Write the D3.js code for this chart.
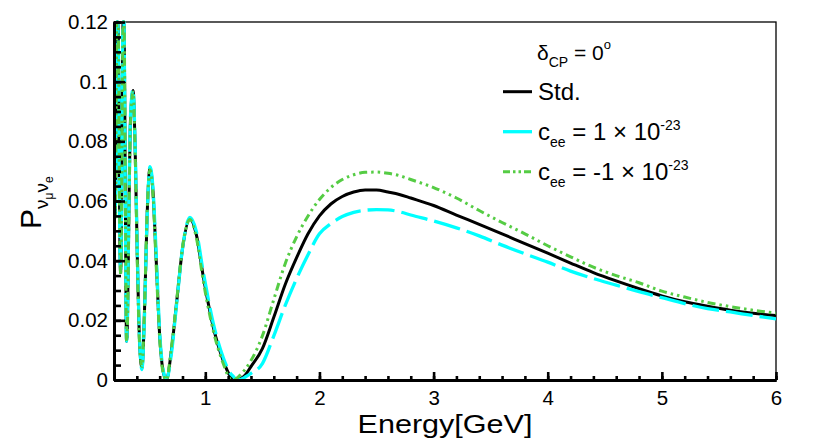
<!DOCTYPE html>
<html>
<head>
<meta charset="utf-8">
<script src="https://cdn.jsdelivr.net/npm/d3@7/dist/d3.min.js"></script>
<style>
  html, body { margin: 0; padding: 0; background: #fff; }
  svg { display: block; font-family: "Liberation Sans", Arial, Helvetica, sans-serif; }
</style>
</head>
<body>
<div id="chart"></div>
<script>
// Energy grid [GeV] and oscillation probabilities
const energy = [
  0.200, 0.205, 0.210, 0.215, 0.220, 0.226, 0.232, 0.238, 0.245, 0.252,
  0.258, 0.265, 0.272, 0.280, 0.287, 0.294, 0.302, 0.310, 0.318, 0.330,
  0.345, 0.367, 0.385, 0.405, 0.425, 0.445, 0.465, 0.490, 0.515, 0.540,
  0.570, 0.600, 0.630, 0.660, 0.700, 0.750, 0.800, 0.866, 0.920, 0.983,
  1.070, 1.157, 1.220, 1.245, 1.260, 1.275, 1.290, 1.310, 1.350, 1.400,
  1.5, 1.6, 1.7, 1.8, 1.9, 2.0, 2.1, 2.2, 2.3, 2.4,
  2.5, 2.6, 2.7, 2.8, 3.0, 3.2, 3.4, 3.6, 3.8, 4.0,
  4.2, 4.4, 4.6, 4.8, 5.0, 5.2, 5.4, 5.6, 5.8, 6.0
];

const probStd = [
  0.085, 0.062, 0.055, 0.068, 0.100, 0.130, 0.135, 0.115, 0.075, 0.045,
  0.036, 0.052, 0.095, 0.130, 0.130, 0.095, 0.045, 0.013, 0.020, 0.055,
  0.088, 0.097, 0.078, 0.040, 0.012, 0.004, 0.020, 0.055, 0.071, 0.064,
  0.040, 0.015, 0.003, 0.000, 0.009, 0.0265, 0.044, 0.054, 0.049, 0.0345,
  0.0177, 0.0065, 0.0012, 0.0004, 0.0001, 0.0000, 0.0001, 0.0005, 0.0017, 0.0045,
  0.0105, 0.021, 0.032, 0.041, 0.049, 0.055, 0.059, 0.0615, 0.063, 0.0637,
  0.0637, 0.063, 0.0622, 0.061, 0.0585, 0.0553, 0.0522, 0.049, 0.0457, 0.0425,
  0.0392, 0.036, 0.0332, 0.0306, 0.0282, 0.0262, 0.0247, 0.0234, 0.0224, 0.0216
];

// c_ee = +1e-23
const probCeePos = [
  0.088, 0.064, 0.056, 0.070, 0.104, 0.132, 0.134, 0.112, 0.072, 0.044,
  0.037, 0.055, 0.098, 0.131, 0.128, 0.092, 0.043, 0.013, 0.021, 0.057,
  0.089, 0.0975, 0.079, 0.042, 0.013, 0.0035, 0.019, 0.054, 0.0715, 0.065,
  0.042, 0.016, 0.0035, 0.000, 0.008, 0.026, 0.044, 0.0545, 0.050, 0.036,
  0.019, 0.0075, 0.0022, 0.0012, 0.0006, 0.0002, 0.0000, 0.0002, 0.0010, 0.0022,
  0.0055, 0.0148, 0.025, 0.034, 0.042, 0.049, 0.0524, 0.0548, 0.0562, 0.0569,
  0.0571, 0.057, 0.0564, 0.0553, 0.0533, 0.051, 0.0483, 0.0452, 0.0423, 0.0395,
  0.0365, 0.034, 0.0318, 0.0296, 0.0276, 0.0256, 0.0239, 0.0228, 0.0216, 0.0205
];

// c_ee = -1e-23
const probCeeNeg = [
  0.082, 0.060, 0.054, 0.066, 0.097, 0.128, 0.136, 0.118, 0.078, 0.046,
  0.035, 0.050, 0.092, 0.129, 0.132, 0.098, 0.047, 0.013, 0.019, 0.053,
  0.087, 0.0965, 0.077, 0.038, 0.011, 0.0045, 0.021, 0.056, 0.0705, 0.063,
  0.038, 0.014, 0.0025, 0.000, 0.010, 0.027, 0.0445, 0.0538, 0.048, 0.033,
  0.0165, 0.0055, 0.0003, 0.0000, 0.0002, 0.0006, 0.0011, 0.0019, 0.0036, 0.0065,
  0.0148, 0.027, 0.039, 0.048, 0.055, 0.0605, 0.0645, 0.0672, 0.0688, 0.0696,
  0.0697, 0.0693, 0.0685, 0.0672, 0.0645, 0.061, 0.0568, 0.0528, 0.049, 0.045,
  0.0413, 0.0378, 0.035, 0.0326, 0.0298, 0.0278, 0.026, 0.0246, 0.0234, 0.0224
];

const xTicks = [1, 2, 3, 4, 5, 6];
const xMinorTicks = d3.range(2, 61, 2).map(d => d / 10);
const yTicks = [0, 0.02, 0.04, 0.06, 0.08, 0.1, 0.12];
const yTickLabels = ['0', '0.02', '0.04', '0.06', '0.08', '0.1', '0.12'];
const yMinorTicks = d3.range(0, 25).map(d => d * 0.005);

const width = 830, height = 447;
const margin = {top: 22, right: 54, bottom: 67, left: 114};
const plotW = width - margin.left - margin.right;
const plotH = height - margin.top - margin.bottom;

const svg = d3.select('#chart')
  .append('svg')
  .attr('width', width)
  .attr('height', height);

const g = svg.append('g')
  .attr('transform', `translate(${margin.left},${margin.top})`);

const x = d3.scaleLinear().domain([0.2, 6]).range([0, plotW]);
const y = d3.scaleLinear().domain([0, 0.12]).range([plotH, 0]).clamp(true);

// Clip for the curves
svg.append('defs').append('clipPath').attr('id', 'plotclip')
  .append('rect')
  .attr('x', 0).attr('y', -2)
  .attr('width', plotW).attr('height', plotH + 2);

// Frame (thin top/right)
g.append('rect')
  .attr('x', 0).attr('y', 0)
  .attr('width', plotW).attr('height', plotH)
  .attr('fill', 'none')
  .attr('stroke', '#000')
  .attr('stroke-width', 1.3);

// Curves
const series = [
  {values: probStd,    color: '#000000', dash: null,              width: 3},
  {values: probCeePos, color: '#00ffff', dash: '27 7',            width: 3.3},
  {values: probCeeNeg, color: '#55cc44', dash: '8 4 2.5 4 2.5 4', width: 3}
];

const line = d3.line()
  .x(d => x(d[0]))
  .y(d => y(d[1]))
  .curve(d3.curveMonotoneX);

const curves = g.append('g').attr('clip-path', 'url(#plotclip)');
series.forEach(s => {
  curves.append('path')
    .datum(energy.map((e, i) => [e, s.values[i]]))
    .attr('d', line)
    .attr('fill', 'none')
    .attr('stroke', s.color)
    .attr('stroke-width', s.width)
    .attr('stroke-dasharray', s.dash);
});

// Axes: ticks inside, thick like the original
const styleAxis = (sel) => {
  sel.select('.domain').attr('stroke-width', 3).attr('stroke', '#000');
  sel.selectAll('.tick line').attr('stroke-width', 2.6).attr('stroke', '#000');
  sel.selectAll('.tick text')
    .attr('fill', '#000')
    .style('font-size', '20.5px')
    .style('font-family', '"Liberation Sans", Arial, sans-serif');
};

g.append('g')
  .attr('transform', `translate(0,${plotH})`)
  .call(d3.axisBottom(x).tickValues(xMinorTicks).tickSize(-4).tickSizeOuter(0).tickFormat(''))
  .call(styleAxis);

g.append('g')
  .attr('transform', `translate(0,${plotH})`)
  .call(d3.axisBottom(x).tickValues(xTicks).tickSize(-8).tickSizeOuter(0).tickPadding(10).tickFormat(d3.format('d')))
  .call(styleAxis);

g.append('g')
  .call(d3.axisLeft(y).tickValues(yMinorTicks).tickSize(-7).tickSizeOuter(0).tickFormat(''))
  .call(styleAxis);

g.append('g')
  .call(d3.axisLeft(y).tickValues(yTicks).tickSize(-11).tickSizeOuter(0).tickPadding(6)
    .tickFormat((d, i) => yTickLabels[i]))
  .call(styleAxis);

// X title
svg.append('text')
  .attr('x', margin.left + plotW / 2)
  .attr('y', 433)
  .attr('text-anchor', 'middle')
  .attr('textLength', 175)
  .attr('lengthAdjust', 'spacingAndGlyphs')
  .style('font-size', '26.5px')
  .text('Energy[GeV]');

// Y title: P_{nu_mu nu_e}
const yTitle = svg.append('text')
  .attr('transform', 'translate(41,229) rotate(-90)')
  .style('font-size', '30px');
yTitle.append('tspan').text('P');
yTitle.append('tspan').attr('dy', 7).style('font-size', '19px').text('ν');
yTitle.append('tspan').attr('dy', 5).style('font-size', '12px').text('μ');
yTitle.append('tspan').attr('dy', -5).style('font-size', '19px').text('ν');
yTitle.append('tspan').attr('dy', 5).style('font-size', '12px').text('e');

// Legend
const legend = svg.append('g');

const head = legend.append('text')
  .attr('x', 537).attr('y', 60)
  .style('font-size', '21px');
head.append('tspan').text('δ');
head.append('tspan').attr('dy', 6.5).style('font-size', '14px').text('CP');
head.append('tspan').attr('dy', -6.5).text(' = 0');
head.append('tspan').attr('dy', -11).style('font-size', '13px').text('o');

const legendRows = [
  {y: 91.7,  color: '#000000', dash: null,              width: 3,   label: 'Std.'},
  {y: 131.7, color: '#00ffff', dash: null,              width: 3.3, label: 'c', sign: ''},
  {y: 171.7, color: '#55cc44', dash: '7 3 2.5 3 2.5 3', width: 3,   label: 'c', sign: '-'}
];

legendRows.forEach(r => {
  legend.append('line')
    .attr('x1', 503).attr('x2', 532)
    .attr('y1', r.y).attr('y2', r.y)
    .attr('stroke', r.color)
    .attr('stroke-width', r.width)
    .attr('stroke-dasharray', r.dash);

  const t = legend.append('text')
    .attr('x', 538).attr('y', r.y + 8.3)
    .style('font-size', '24px');
  if (r.label === 'Std.') {
    t.text('Std.');
  } else {
    t.append('tspan').text('c');
    t.append('tspan').attr('dy', 6.7).style('font-size', '14px').text('ee');
    t.append('tspan').attr('dy', -6.7).text(` = ${r.sign}1 × 10`);
    t.append('tspan').attr('dy', -10).style('font-size', '14px').text('-23');
  }
});
</script>
</body>
</html>
